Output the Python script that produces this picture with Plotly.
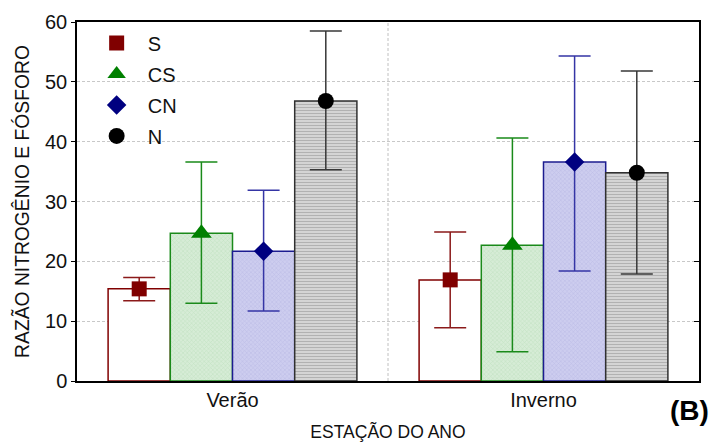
import plotly.graph_objects as go

seasons = ["Verão", "Inverno"]
groups = ["S", "CS", "CN", "N"]
means = {
    "S": [15.4, 16.9],
    "CS": [24.7, 22.7],
    "CN": [21.7, 36.6],
    "N": [46.8, 34.8],
}
upper = {
    "S": [17.3, 24.9],
    "CS": [36.6, 40.6],
    "CN": [31.9, 54.3],
    "N": [58.5, 51.8],
}
lower = {
    "S": [13.4, 8.9],
    "CS": [13.0, 4.9],
    "CN": [11.7, 18.4],
    "N": [35.3, 17.9],
}

offsets = [-0.3, -0.1, 0.1, 0.3]
line_colors = {"S": "#800000", "CS": "#1a8a1a", "CN": "#1c1c90", "N": "#303030"}
err_colors = {"S": "#8b1a1a", "CS": "#1a8a1a", "CN": "#3535a5", "N": "#383838"}
marker_colors = {"S": "#800000", "CS": "#008000", "CN": "#000080", "N": "#000000"}
symbols = {"S": "square", "CS": "triangle-up", "CN": "diamond", "N": "circle"}
msize = {"S": 15, "CS": 18, "CN": 15, "N": 16}
bar_style = {
    "S": dict(color="white", pattern=dict(shape="")),
    "CS": dict(color="#cfe8cf", pattern=dict(shape="x", fgcolor="#a6d3a6", bgcolor="#d6ecd6", size=3, solidity=0.3)),
    "CN": dict(color="#c8c8ec", pattern=dict(shape="x", fgcolor="#a8a8d8", bgcolor="#cdcdef", size=3, solidity=0.3)),
    "N": dict(color="#d0d0d0", pattern=dict(shape="-", fgcolor="#8a8a8a", bgcolor="#d8d8d8", size=3, solidity=0.4)),
}

fig = go.Figure()
for g, off in zip(groups, offsets):
    xs = [i + off for i in range(len(seasons))]
    st = bar_style[g]
    fig.add_trace(go.Bar(
        x=xs, y=means[g], width=0.2, showlegend=False,
        marker=dict(color=st["color"], pattern=st["pattern"],
                    line=dict(color=line_colors[g], width=1.5)),
    ))
for g, off in zip(groups, offsets):
    xs = [i + off for i in range(len(seasons))]
    fig.add_trace(go.Scatter(
        x=xs, y=means[g], mode="markers", name="\u00a0\u00a0" + g, legendgroup=g,
        marker=dict(symbol=symbols[g], size=msize[g], color=marker_colors[g]),
        error_y=dict(type="data", symmetric=False,
                     array=[u - m for u, m in zip(upper[g], means[g])],
                     arrayminus=[m - l for l, m in zip(lower[g], means[g])],
                     color=err_colors[g], thickness=1.5, width=16),
    ))

# invisible trace to anchor the right-hand axis
fig.add_trace(go.Scatter(x=[0], y=[0], yaxis="y2", mode="markers",
                         marker=dict(opacity=0), showlegend=False, hoverinfo="skip"))

fig.add_shape(type="line", xref="x", yref="paper", x0=0.5, x1=0.5, y0=0, y1=1,
              line=dict(color="#c0c0c0", width=1, dash="3px,2px"), layer="below")

fig.update_layout(
    width=714, height=443,
    margin=dict(l=77, r=15, t=22, b=62),
    plot_bgcolor="white", paper_bgcolor="white",
    barmode="overlay",
    font=dict(family="Liberation Sans, Arial", size=20, color="#111"),
    legend=dict(x=0.0316, y=0.996, xanchor="left", yanchor="top",
                bgcolor="rgba(0,0,0,0)", font=dict(size=20), tracegroupgap=2),
    annotations=[dict(text="<b>(B)</b>", x=(668 - 77) / 622, y=-0.083, xref="paper", yref="paper",
                      xanchor="left", yanchor="middle",
                      showarrow=False, font=dict(size=28, color="black"))],
    yaxis2=dict(overlaying="y", side="right", range=[0, 60], dtick=10,
                showticklabels=False, ticks="inside", ticklen=5, tickcolor="black",
                showgrid=False, zeroline=False, showline=False),
)

fig.update_xaxes(range=[-0.5, 1.5], tickvals=[0, 1], ticktext=seasons, automargin=False,
                 showgrid=False, zeroline=False, showline=True, linecolor="black",
                 linewidth=1.5, mirror=True, ticks="", tickfont=dict(size=20),
                 title=dict(text="ESTAÇÃO DO ANO", font=dict(size=17.5), standoff=16))
fig.layout.yaxis.update(range=[0, 60], dtick=10, showgrid=True, automargin=False,
                        gridcolor="#c8c8c8", griddash="3px,2px", gridwidth=1, zeroline=False,
                        showline=True, linecolor="black", linewidth=1.5, mirror=True,
                        ticks="outside", ticklen=4, tickcolor="black", tickfont=dict(size=20),
                        title=dict(text="RAZÃO NITROGÊNIO E FÓSFORO", font=dict(size=19.3), standoff=10))

fig.write_html("out.html")
